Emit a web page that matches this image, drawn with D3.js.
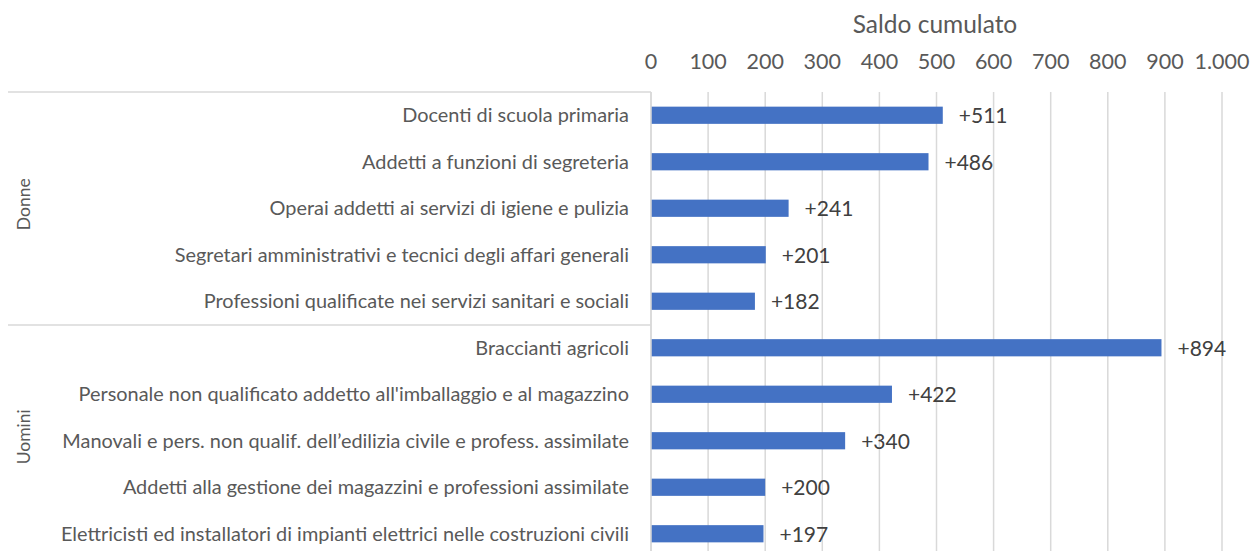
<!DOCTYPE html>
<html>
<head>
<meta charset="utf-8">
<script src="https://cdn.jsdelivr.net/npm/d3@7"></script>
<style>
  body { margin: 0; background: #fff; }
  svg { display: block; font-family: Lato, "Open Sans", sans-serif; }
</style>
</head>
<body>
<svg id="chart" width="1251" height="551"></svg>
<script>
const groups = ["Donne", "Uomini"];
const categories = [
  "Docenti di scuola primaria",
  "Addetti a funzioni di segreteria",
  "Operai addetti ai servizi di igiene e pulizia",
  "Segretari amministrativi e tecnici degli affari generali",
  "Professioni qualificate nei servizi sanitari e sociali",
  "Braccianti agricoli",
  "Personale non qualificato addetto all'imballaggio e al magazzino",
  "Manovali e pers. non qualif. dell\u2019edilizia civile e profess. assimilate",
  "Addetti alla gestione dei magazzini e professioni assimilate",
  "Elettricisti ed installatori di impianti elettrici nelle costruzioni civili"
];
const categoryGroup = ["Donne", "Donne", "Donne", "Donne", "Donne",
  "Uomini", "Uomini", "Uomini", "Uomini", "Uomini"];
const values = [511, 486, 241, 201, 182, 894, 422, 340, 200, 197];
const tickValues = [0, 100, 200, 300, 400, 500, 600, 700, 800, 900, 1000];
const axisTitle = "Saldo cumulato";

const svg = d3.select("#chart");
const itLocale = d3.formatLocale({ decimal: ",", thousands: ".", grouping: [3], currency: ["€", ""] });
const fmt = itLocale.format(",d");

const x = d3.scaleLinear().domain([0, 1000]).range([651, 1222]);
const y = d3.scaleBand().domain(d3.range(categories.length)).range([92, 557]).paddingInner(0.63).paddingOuter(0.315);

// gridlines
svg.append("g")
  .selectAll("line")
  .data(tickValues)
  .join("line")
  .attr("x1", d => x(d)).attr("x2", d => x(d))
  .attr("y1", 92).attr("y2", 551)
  .attr("stroke", "#d9d9d9")
  .attr("stroke-width", 1.5);

// top axis labels
svg.append("g")
  .selectAll("text")
  .data(tickValues)
  .join("text")
  .attr("x", d => x(d))
  .attr("y", 69)
  .attr("text-anchor", "middle")
  .attr("font-size", 21.5)
  .attr("fill", "#595959")
  .text(d => fmt(d));

svg.append("text")
  .attr("x", 935)
  .attr("y", 33)
  .attr("text-anchor", "middle")
  .attr("font-size", 24.5)
  .attr("fill", "#595959")
  .text(axisTitle);

// group separators on the category axis
const groupBounds = groups.map(g => {
  const idx = d3.range(categories.length).filter(i => categoryGroup[i] === g);
  const top = y(idx[0]) - y.step() * y.paddingInner() / 2;
  const bottom = y(idx[idx.length - 1]) + y.bandwidth() + y.step() * y.paddingInner() / 2;
  return { g, top, bottom };
});

svg.append("g")
  .selectAll("line")
  .data(groupBounds)
  .join("line")
  .attr("x1", 8).attr("x2", x(0))
  .attr("y1", d => Math.round(d.top)).attr("y2", d => Math.round(d.top))
  .attr("stroke", "#d9d9d9")
  .attr("stroke-width", 1.5);

svg.append("g")
  .selectAll("text")
  .data(groupBounds)
  .join("text")
  .attr("transform", d => `translate(30,${(d.top + d.bottom) / 2 - 4}) rotate(-90)`)
  .attr("text-anchor", "middle")
  .attr("font-size", 17.5)
  .attr("fill", "#595959")
  .text(d => d.g);

// category labels
svg.append("g")
  .selectAll("text")
  .data(categories)
  .join("text")
  .attr("x", 629)
  .attr("y", (d, i) => y(i) + y.bandwidth() / 2)
  .attr("dy", "0.35em")
  .attr("text-anchor", "end")
  .attr("font-size", 19.9)
  .attr("fill", "#595959")
  .text(d => d);

// bars
svg.append("g")
  .selectAll("rect")
  .data(values)
  .join("rect")
  .attr("x", x(0))
  .attr("y", (d, i) => y(i))
  .attr("width", d => x(d) - x(0))
  .attr("height", y.bandwidth())
  .attr("fill", "#4472c4");

// value labels
svg.append("g")
  .selectAll("text")
  .data(values)
  .join("text")
  .attr("x", d => x(d) + 16)
  .attr("y", (d, i) => y(i) + y.bandwidth() / 2)
  .attr("dy", "0.37em")
  .attr("font-size", 21)
  .attr("fill", "#404040")
  .text(d => "+" + d);

// axis line
svg.append("line")
  .attr("x1", x(0)).attr("x2", x(0))
  .attr("y1", 92).attr("y2", 551)
  .attr("stroke", "#d9d9d9")
  .attr("stroke-width", 1.5);
</script>
</body>
</html>
